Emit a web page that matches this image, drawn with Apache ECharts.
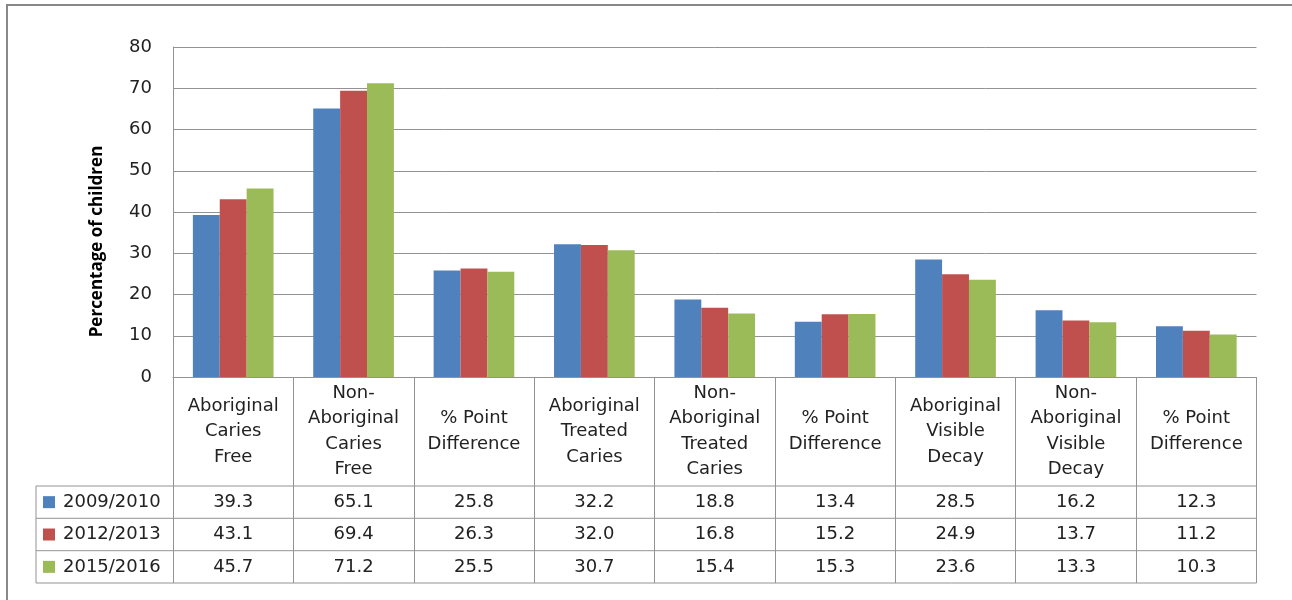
<!DOCTYPE html>
<html><head><meta charset="utf-8">
<script src="https://cdn.jsdelivr.net/npm/echarts@6/dist/echarts.min.js"></script>
<style>html,body{margin:0;padding:0;background:#fff}#c{width:1292px;height:600px}</style>
</head><body><div id="c"></div>
<script>
const categories = ['Aboriginal\nCaries\nFree','Non-\nAboriginal\nCaries\nFree','% Point\nDifference','Aboriginal\nTreated\nCaries','Non-\nAboriginal\nTreated\nCaries','% Point\nDifference','Aboriginal\nVisible\nDecay','Non-\nAboriginal\nVisible\nDecay','% Point\nDifference'];
const seriesNames = ['2009/2010','2012/2013','2015/2016'];
const values2009 = [39.3,65.1,25.8,32.2,18.8,13.4,28.5,16.2,12.3];
const values2012 = [43.1,69.4,26.3,32.0,16.8,15.2,24.9,13.7,11.2];
const values2015 = [45.7,71.2,25.5,30.7,15.4,15.3,23.6,13.3,10.3];
const yAxisTitle = 'Percentage of children';
const yMin = 0, yMax = 80, yStep = 10;

const colors = ['#4F81BD','#C0504D','#9BBB59'];
const FONT = '"DejaVu Sans", "Open Sans", sans-serif';
const FS = 18;
const lineCol = '#939393';
const textCol = '#222';
const G = {left:173, top:47, width:1083.5, height:330};
const rowYs = [486, 518.3, 550.7, 583];
const legendLeft = 36;

const chart = echarts.init(document.getElementById('c'), null, {renderer:'canvas'});
const allValues = [values2009, values2012, values2015];
chart.setOption({
  animation:false,
  backgroundColor:'#fff',
  grid:{left:G.left, top:G.top, width:G.width, height:G.height, containLabel:false},
  xAxis:{type:'category', data:categories,
    axisLine:{show:true, lineStyle:{color:lineCol, width:1}},
    axisTick:{show:true, interval:0, length: rowYs[3]-(G.top+G.height), lineStyle:{color:lineCol, width:1}},
    axisLabel:{interval:0, margin:(rowYs[0]-(G.top+G.height))/2, verticalAlign:'middle', align:'center',
      lineHeight:25.5, fontSize:FS, fontFamily:FONT, color:textCol},
    splitLine:{show:false}},
  yAxis:{type:'value', min:yMin, max:yMax, interval:yStep,
    axisLine:{show:true, lineStyle:{color:lineCol, width:1}},
    axisTick:{show:false},
    axisLabel:{margin:21, fontSize:FS, fontFamily:FONT, color:textCol},
    splitLine:{show:true, lineStyle:{color:lineCol, width:1}}},
  series: seriesNames.map((n,i)=>({name:n, type:'bar', data:allValues[i], barGap:'0%', barCategoryGap:'33%',
    itemStyle:{color:colors[i]}}))
});

function buildGraphics(){
  const x1 = G.left + G.width;
  const els = [];
  els.push({type:'rect', shape:{x:7, y:5, width:1400, height:800}, style:{fill:null, stroke:'#888', lineWidth:2}, silent:true});
  rowYs.forEach(y=>els.push({type:'line', shape:{x1:legendLeft, y1:y, x2:x1, y2:y}, style:{stroke:lineCol, lineWidth:1}}));
  els.push({type:'line', shape:{x1:legendLeft, y1:rowYs[0], x2:legendLeft, y2:rowYs[3]}, style:{stroke:lineCol, lineWidth:1}});
  allValues.forEach((arr,r)=>{
    const cy = (rowYs[r]+rowYs[r+1])/2;
    els.push({type:'rect', shape:{x:43, y:cy-6, width:12, height:12}, style:{fill:colors[r]}});
    els.push({type:'text', style:{text:seriesNames[r], x:63, y:cy, align:'left', verticalAlign:'middle', fontSize:FS, fontFamily:FONT, fill:textCol}});
    arr.forEach((v,i)=>{
      const px = chart.convertToPixel({xAxisIndex:0}, i);
      els.push({type:'text', style:{text:v.toFixed(1), x:px, y:cy, align:'center', verticalAlign:'middle', fontSize:FS, fontFamily:FONT, fill:textCol}});
    });
  });
  els.push({type:'text', x:97, y:241.5, rotation:Math.PI/2,
    style:{text:yAxisTitle, x:0, y:0, align:'center', verticalAlign:'middle', fontSize:17, fontWeight:'bold', fontFamily:'"Open Sans", sans-serif', fill:'#000'}});
  chart.setOption({graphic:{elements:els}});
}
buildGraphics();
</script></body></html>
